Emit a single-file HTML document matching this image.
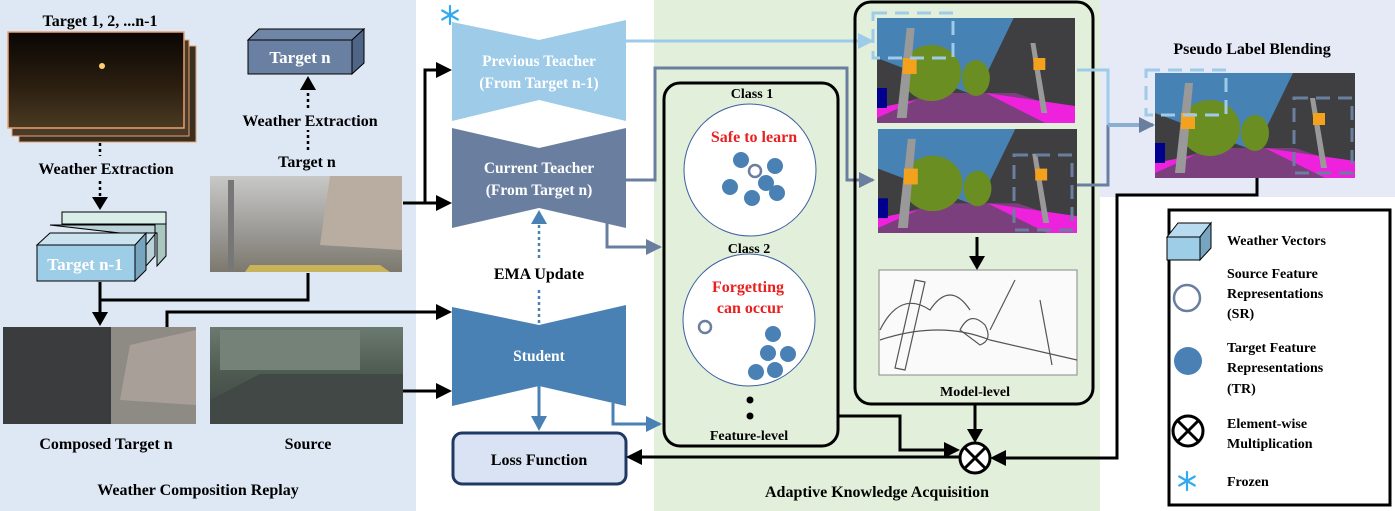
<!DOCTYPE html>
<html><head><meta charset="utf-8"><style>
html,body{margin:0;padding:0;background:#fff;}
svg{display:block;font-family:"Liberation Serif",serif;font-weight:bold;}
</style></head><body>
<svg width="1395" height="511" viewBox="0 0 1395 511" xmlns="http://www.w3.org/2000/svg">
<defs>
<marker id="ab" markerWidth="8" markerHeight="8" refX="6" refY="4" orient="auto" markerUnits="userSpaceOnUse"><path d="M0,0 L8,4 L0,8 z" fill="#000"/></marker>
<marker id="ab2" markerWidth="16" markerHeight="16" refX="14" refY="8" orient="auto" markerUnits="userSpaceOnUse"><path d="M0,0 L16,8 L0,16 z" fill="#000"/></marker>
<marker id="alb" markerWidth="16" markerHeight="16" refX="14" refY="8" orient="auto" markerUnits="userSpaceOnUse"><path d="M0,0 L16,8 L0,16 z" fill="#9dcbe8"/></marker>
<marker id="agb" markerWidth="16" markerHeight="16" refX="14" refY="8" orient="auto" markerUnits="userSpaceOnUse"><path d="M0,0 L16,8 L0,16 z" fill="#6a7f9f"/></marker>
<marker id="amb" markerWidth="16" markerHeight="16" refX="14" refY="8" orient="auto" markerUnits="userSpaceOnUse"><path d="M0,0 L16,8 L0,16 z" fill="#4a81b5"/></marker>
<linearGradient id="night" x1="0" y1="0" x2="0" y2="1"><stop offset="0" stop-color="#0a0604"/><stop offset="0.55" stop-color="#2a1e10"/><stop offset="1" stop-color="#4a3a22"/></linearGradient>
<linearGradient id="fog" x1="0" y1="0" x2="0" y2="1"><stop offset="0" stop-color="#c8c8c6"/><stop offset="0.6" stop-color="#9a9894"/><stop offset="1" stop-color="#7c786e"/></linearGradient>
<linearGradient id="src" x1="0" y1="0" x2="0" y2="1"><stop offset="0" stop-color="#6b7a70"/><stop offset="0.45" stop-color="#4f5c52"/><stop offset="1" stop-color="#3c4440"/></linearGradient>
<g id="seg">
<rect x="0" y="0" width="200" height="105" fill="#3f3f42"/>
<polygon points="0,0 138,0 100,78 0,40" fill="#4682b4"/>
<polygon points="0,92 60,75 140,75 200,95 200,105 0,105" fill="#7b3f7d"/>
<polygon points="0,90 40,82 0,100" fill="#ee22dd"/>
<polygon points="110,75 200,88 200,105 170,105" fill="#ee22dd"/>
<ellipse cx="55" cy="55" rx="30" ry="28" fill="#6b8e23"/>
<ellipse cx="100" cy="60" rx="14" ry="18" fill="#6b8e23"/>
<polygon points="20,100 30,10 38,10 30,100" fill="#999"/>
<rect x="26" y="40" width="14" height="16" fill="#f4a21e"/>
<polygon points="155,25 160,25 172,95 166,95" fill="#999"/>
<rect x="158" y="40" width="12" height="12" fill="#f4a21e"/>
<rect x="0" y="70" width="10" height="20" fill="#00008e"/>
</g>
<g id="snow" stroke="#33aaee" stroke-width="2.2" stroke-linecap="round">
<line x1="0" y1="-9" x2="0" y2="9"/><line x1="-7.8" y1="-4.5" x2="7.8" y2="4.5"/><line x1="-7.8" y1="4.5" x2="7.8" y2="-4.5"/>
</g>
</defs>

<!-- backgrounds -->
<rect x="0" y="0" width="416" height="511" fill="#dde8f4"/>
<rect x="654" y="0" width="446" height="511" fill="#e2efda"/>
<rect x="1100" y="0" width="295" height="197" fill="#e6eaf6"/>

<!-- LEFT PANEL -->
<text x="100" y="26" font-size="16" text-anchor="middle">Target 1, 2, ...n-1</text>
<rect x="19" y="46" width="177" height="96" fill="#3a3020" stroke="#e9a070" stroke-width="1"/>
<rect x="12" y="40" width="177" height="96" fill="#4a3a28" stroke="#e9a070" stroke-width="1"/>
<rect x="8" y="32" width="176" height="96" fill="url(#night)" stroke="#e9a070" stroke-width="1.5"/>
<circle cx="102" cy="66" r="3" fill="#ffd070"/>
<line x1="100" y1="143" x2="100" y2="156" stroke="#000" stroke-width="2.5" stroke-dasharray="3,3"/>
<text x="106" y="174" font-size="16" text-anchor="middle">Weather Extraction</text>
<line x1="100" y1="181" x2="100" y2="200" stroke="#000" stroke-width="2.5" stroke-dasharray="3,3"/>
<polygon points="92,197 108,197 100,210" fill="#000"/>
<!-- stacked cube -->
<polygon points="62,224 166,224 166,256 157,266 157,233" fill="#a9c6c0" stroke="#000" stroke-width="1"/>
<rect x="62" y="212" width="104" height="12" fill="#d9eee8" stroke="#000" stroke-width="1"/>
<polygon points="50,225 155,225 155,256 146,266 146,236" fill="#b9d1d8" stroke="#000" stroke-width="1"/>
<polygon points="37,245 50,233 156,233 146,245" fill="#cbe3ee" stroke="#000" stroke-width="1"/>
<polygon points="135,245 146,233 146,270 135,281" fill="#77a4be" stroke="#000" stroke-width="1"/>
<rect x="37" y="245" width="98" height="36" fill="#9ecde8" stroke="#000" stroke-width="1"/>
<text x="85" y="270" font-size="17" fill="#fff" text-anchor="middle">Target n-1</text>
<!-- Target n cube -->
<polygon points="248,40 259,29 364,29 352,40" fill="#6f86a6" stroke="#000" stroke-width="1"/>
<polygon points="352,40 364,29 364,63 352,74" fill="#4f6585" stroke="#000" stroke-width="1"/>
<rect x="248" y="40" width="104" height="34" fill="#6a80a2" stroke="#000" stroke-width="1"/>
<text x="300" y="63" font-size="17" fill="#fff" text-anchor="middle">Target n</text>
<line x1="308" y1="150" x2="308" y2="130" stroke="#000" stroke-width="2.5" stroke-dasharray="3,3"/>
<text x="310" y="126" font-size="16" text-anchor="middle">Weather Extraction</text>
<line x1="308" y1="108" x2="308" y2="90" stroke="#000" stroke-width="2.5" stroke-dasharray="3,3"/>
<polygon points="300,90 316,90 308,76" fill="#000"/>
<text x="307" y="167" font-size="16" text-anchor="middle">Target n</text>
<rect x="210" y="176" width="192" height="96" fill="url(#fog)"/>
<polygon points="330,176 402,176 402,250 320,245" fill="#b8ada0"/>
<rect x="228" y="180" width="6" height="90" fill="#777"/>
<polygon points="250,265 380,265 390,272 245,272" fill="#c9b35a"/>
<!-- connectors left -->
<polyline points="308,273 308,300 100,300" fill="none" stroke="#000" stroke-width="3"/>
<line x1="100" y1="282" x2="100" y2="314" stroke="#000" stroke-width="3"/>
<polygon points="92,312 108,312 100,326" fill="#000"/>
<rect x="3" y="327" width="193" height="97" fill="#8e8a84"/>
<rect x="3" y="327" width="108" height="97" fill="#3a3c3e"/>
<polygon points="130,345 196,330 196,405 120,400" fill="#a8a098"/>
<rect x="210" y="327" width="193" height="97" fill="url(#src)"/>
<rect x="220" y="330" width="140" height="40" fill="#748278"/>
<polygon points="210,400 260,374 403,374 403,424 210,424" fill="#414846"/>
<text x="106" y="449" font-size="16" text-anchor="middle">Composed Target n</text>
<text x="308" y="449" font-size="16" text-anchor="middle">Source</text>
<text x="198" y="495" font-size="16" text-anchor="middle">Weather Composition Replay</text>
<!-- black arrows to networks -->
<polyline points="403,203 425,203 425,70 438,70" fill="none" stroke="#000" stroke-width="3"/>
<polygon points="436,62 452,70 436,78" fill="#000"/>
<line x1="403" y1="203" x2="438" y2="203" stroke="#000" stroke-width="3"/>
<polygon points="436,195 452,203 436,211" fill="#000"/>
<polyline points="167,327 167,312 438,312" fill="none" stroke="#000" stroke-width="3"/>
<polygon points="436,304 452,312 436,320" fill="#000"/>
<line x1="403" y1="391" x2="438" y2="391" stroke="#000" stroke-width="3"/>
<polygon points="436,383 452,391 436,399" fill="#000"/>

<!-- NETWORKS -->
<use href="#snow" x="450" y="15"/>
<polygon points="452,22 539,40 626,20 626,121 539,100 452,121" fill="#9dcbe8"/>
<text x="539" y="66" font-size="15.5" fill="#fff" text-anchor="middle">Previous Teacher</text>
<text x="539" y="88" font-size="15.5" fill="#fff" text-anchor="middle">(From Target n-1)</text>
<polygon points="452,128 539,148 626,128 626,228 539,208 452,228" fill="#6a7f9f"/>
<text x="539" y="173" font-size="15.5" fill="#fff" text-anchor="middle">Current Teacher</text>
<text x="539" y="195" font-size="15.5" fill="#fff" text-anchor="middle">(From Target n)</text>
<polygon points="452,307 539,325 626,305 626,406 539,386 452,406" fill="#4a81b5"/>
<text x="539" y="361" font-size="15.5" fill="#fff" text-anchor="middle">Student</text>
<line x1="539" y1="323" x2="539" y2="290" stroke="#4a81b5" stroke-width="2.5" stroke-dasharray="3,3"/>
<line x1="539" y1="258" x2="539" y2="222" stroke="#4a81b5" stroke-width="2.5" stroke-dasharray="3,3"/>
<polygon points="531,224 547,224 539,210" fill="#4a81b5"/>
<text x="539" y="279" font-size="16" text-anchor="middle">EMA Update</text>
<line x1="539" y1="386" x2="539" y2="418" stroke="#4a81b5" stroke-width="3"/>
<polygon points="531,416 547,416 539,431" fill="#4a81b5"/>
<rect x="453" y="433" width="173" height="51" rx="9" fill="#dae3f3" stroke="#1f3864" stroke-width="3"/>
<text x="539" y="465" font-size="16" text-anchor="middle">Loss Function</text>

<!-- blue connectors -->
<polyline points="626,41 872,41" fill="none" stroke="#9dcbe8" stroke-width="3" marker-end="url(#alb)"/>
<polyline points="626,180 655,180 655,68 847,68 847,180 873,180" fill="none" stroke="#6a7f9f" stroke-width="3" marker-end="url(#agb)"/>
<polyline points="607,210 607,247 660,247" fill="none" stroke="#6a7f9f" stroke-width="3" marker-end="url(#agb)"/>
<polyline points="613,403 613,424 660,424" fill="none" stroke="#4a81b5" stroke-width="3" marker-end="url(#amb)"/>

<!-- FEATURE LEVEL -->
<rect x="664" y="83" width="174" height="363" rx="16" fill="none" stroke="#000" stroke-width="3"/>
<text x="752" y="98" font-size="14" text-anchor="middle">Class 1</text>
<circle cx="750" cy="170" r="66" fill="#fff" stroke="#3a5fa0" stroke-width="1"/>
<text x="754" y="142" font-size="16" fill="#e82020" text-anchor="middle">Safe to learn</text>
<g fill="#4a81b5">
<circle cx="741" cy="160" r="8"/><circle cx="775" cy="166" r="8"/><circle cx="766" cy="183" r="8"/><circle cx="730" cy="187" r="8"/><circle cx="752" cy="198" r="8"/><circle cx="777" cy="193" r="8"/>
</g>
<circle cx="755" cy="171" r="6" fill="#fff" stroke="#6a7f9f" stroke-width="2.5"/>
<text x="749" y="253" font-size="14" text-anchor="middle">Class 2</text>
<circle cx="749" cy="320" r="66" fill="#fff" stroke="#3a5fa0" stroke-width="1"/>
<text x="748" y="292" font-size="16" fill="#e82020" text-anchor="middle">Forgetting</text>
<text x="750" y="313" font-size="16" fill="#e82020" text-anchor="middle">can occur</text>
<circle cx="705" cy="327" r="6" fill="#fff" stroke="#6a7f9f" stroke-width="2.5"/>
<g fill="#4a81b5">
<circle cx="773" cy="334" r="8"/><circle cx="768" cy="353" r="8"/><circle cx="788" cy="354" r="8"/><circle cx="756" cy="372" r="8"/><circle cx="775" cy="370" r="8"/>
</g>
<circle cx="750" cy="400" r="3.5" fill="#000"/><circle cx="750" cy="416" r="3.5" fill="#000"/>
<text x="749" y="440" font-size="14" text-anchor="middle">Feature-level</text>

<!-- MODEL LEVEL -->
<rect x="855" y="2" width="238" height="402" rx="16" fill="none" stroke="#000" stroke-width="3"/>
<use href="#seg" transform="translate(877,18) scale(0.99,1)"/>
<use href="#seg" transform="translate(878,129) scale(0.995,0.99)"/>
<rect x="873" y="13" width="80" height="45" fill="none" stroke="#9dcbe8" stroke-width="3" stroke-dasharray="14,8"/>
<rect x="1014" y="155" width="58" height="75" fill="none" stroke="#6a7f9f" stroke-width="3" stroke-dasharray="14,8"/>
<line x1="977" y1="237" x2="977" y2="258" stroke="#000" stroke-width="3"/>
<polygon points="969,256 985,256 977,270" fill="#000"/>
<rect x="879" y="270" width="198" height="105" fill="#fafafa" stroke="#888" stroke-width="1"/>
<g fill="none" stroke="#555" stroke-width="1.2">
<polygon points="915,280 925,282 905,370 895,368"/>
<path d="M960,330 q10,-20 25,-5 q8,15 -5,20 z"/>
<path d="M880,340 Q940,320 990,340 L1077,360"/>
<line x1="1040" y1="300" x2="1052" y2="365"/>
<line x1="1015" y1="280" x2="990" y2="330"/>
<path d="M880,330 q20,-40 50,-20 q20,-30 40,0"/>
</g>
<text x="975" y="396" font-size="14" text-anchor="middle">Model-level</text>

<!-- pseudo label blending -->
<polyline points="1077,70 1108,70 1108,125" fill="none" stroke="#9dcbe8" stroke-width="3"/>
<polyline points="1077,185 1108,185 1108,125" fill="none" stroke="#6a7f9f" stroke-width="3"/>
<line x1="1108" y1="125" x2="1153" y2="125" stroke="#8aaed0" stroke-width="4" marker-end="url(#agb)"/>
<text x="1252" y="54" font-size="16" text-anchor="middle">Pseudo Label Blending</text>
<use href="#seg" transform="translate(1155,73) scale(1,1)"/>
<rect x="1146" y="70" width="80" height="45" fill="none" stroke="#9dcbe8" stroke-width="3" stroke-dasharray="14,8"/>
<rect x="1294" y="98" width="58" height="75" fill="none" stroke="#6a7f9f" stroke-width="3" stroke-dasharray="14,8"/>

<!-- multiplication -->
<polyline points="1257,178 1257,195 1117,195 1117,458 995,458" fill="none" stroke="#000" stroke-width="3"/>
<polygon points="1006,450 990,458 1006,466" fill="#000"/>
<line x1="975" y1="404" x2="975" y2="432" stroke="#000" stroke-width="3"/>
<polygon points="967,429 983,429 975,443" fill="#000"/>
<polyline points="838,416 900,416 900,450 948,450" fill="none" stroke="#000" stroke-width="3"/>
<polygon points="944,442 960,450 944,458" fill="#000"/>
<line x1="960" y1="457" x2="640" y2="457" stroke="#000" stroke-width="3"/>
<polygon points="642,449 626,457 642,465" fill="#000"/>
<circle cx="975" cy="458" r="15" fill="#fff" stroke="#000" stroke-width="3"/>
<line x1="964" y1="447" x2="986" y2="469" stroke="#000" stroke-width="3"/>
<line x1="986" y1="447" x2="964" y2="469" stroke="#000" stroke-width="3"/>
<text x="877" y="497" font-size="16" text-anchor="middle">Adaptive Knowledge Acquisition</text>

<!-- LEGEND -->
<rect x="1169" y="210" width="221" height="295" fill="#fff" stroke="#000" stroke-width="3"/>
<polygon points="1167,237 1178,223 1211,223 1200,237" fill="#b8dbef" stroke="#000" stroke-width="1"/>
<polygon points="1200,237 1211,223 1211,248 1200,260" fill="#77a4be" stroke="#000" stroke-width="1"/>
<rect x="1167" y="237" width="33" height="23" fill="#9ecde8" stroke="#000" stroke-width="1"/>
<g font-size="14">
<text x="1227" y="245">Weather Vectors</text>
<text x="1227" y="278">Source Feature</text>
<text x="1227" y="298">Representations</text>
<text x="1227" y="318">(SR)</text>
<text x="1227" y="352">Target Feature</text>
<text x="1227" y="372">Representations</text>
<text x="1227" y="393">(TR)</text>
<text x="1227" y="428">Element-wise</text>
<text x="1227" y="448">Multiplication</text>
<text x="1227" y="486">Frozen</text>
</g>
<circle cx="1187" cy="298" r="13" fill="#fff" stroke="#6a7f9f" stroke-width="2.5"/>
<circle cx="1188" cy="361" r="14" fill="#4a81b5"/>
<circle cx="1188" cy="431" r="15" fill="#fff" stroke="#000" stroke-width="3"/>
<line x1="1177" y1="420" x2="1199" y2="442" stroke="#000" stroke-width="3"/>
<line x1="1199" y1="420" x2="1177" y2="442" stroke="#000" stroke-width="3"/>
<use href="#snow" x="1187" y="481"/>
</svg>
</body></html>
